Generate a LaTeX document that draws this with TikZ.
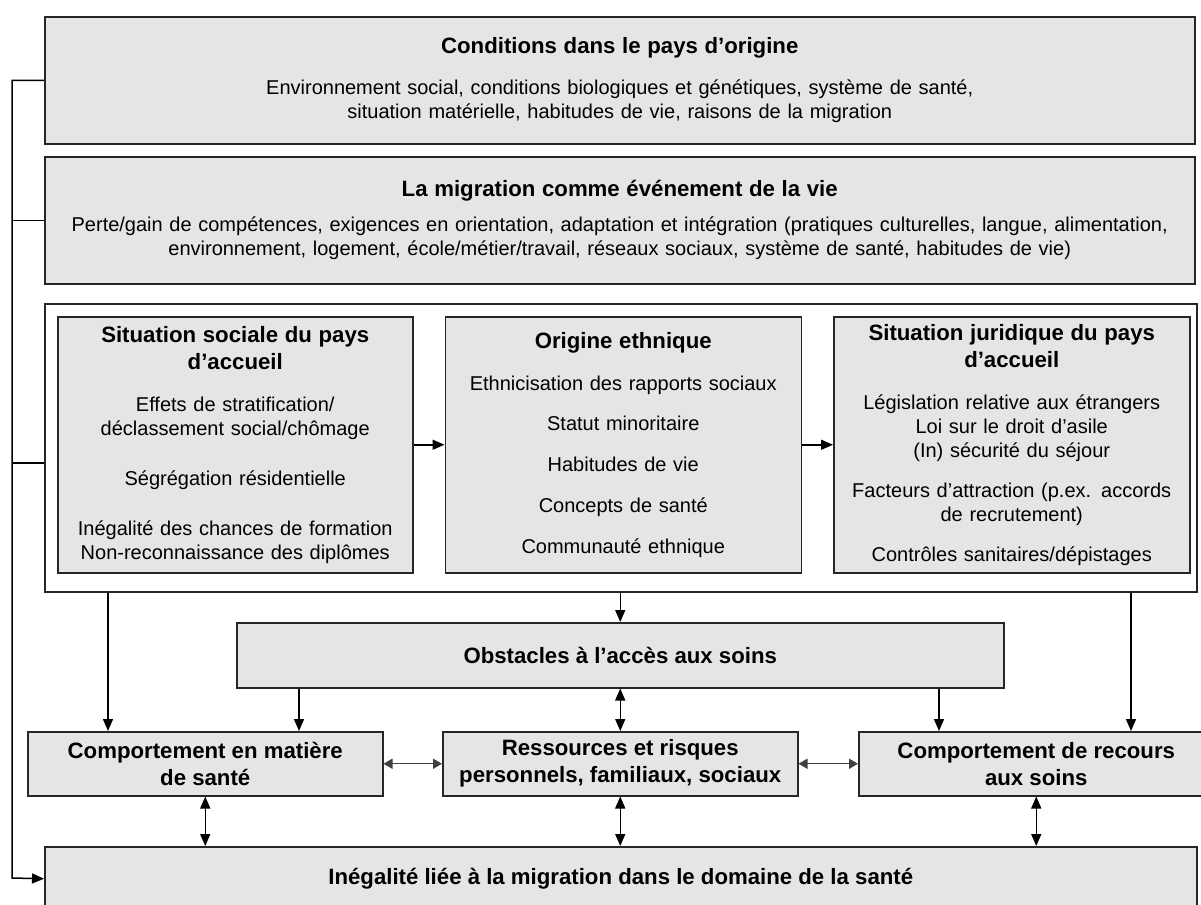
\documentclass[tikz,border=0pt]{standalone}
\usepackage{fontspec}
\setmainfont{Liberation Sans}
\usetikzlibrary{arrows.meta,positioning}
\newcommand\headfont{\bfseries\fontsize{11.1}{13.5}\selectfont}
\newcommand\bodyfont{\fontsize{10}{12}\selectfont}
\tikzset{
    box/.style={draw=black!85, fill=black!10, line width=0.75pt, inner sep=0pt, align=center},
    inner/.style={box, minimum width=177.5pt, minimum height=128pt, text width=172pt},
    lower/.style={box, minimum width=177.5pt, minimum height=32pt, font=\headfont},
    frame/.style={draw=black!85, fill=white, line width=0.75pt},
    wire/.style={line width=0.75pt},
    flow/.style={-{Triangle[length=6pt, width=5pt]}, line width=0.75pt},
    both/.style={{Triangle[length=6pt, width=5pt]}-{Triangle[length=6pt, width=5pt]}, line width=0.75pt},
    link/.style={{Triangle[length=4.5pt, width=5pt]}-{Triangle[length=4.5pt, width=5pt]}, draw=black!75, line width=0.7pt}
}
\begin{document}
\begin{tikzpicture}[x=0.5pt, y=-0.5pt]
    \useasboundingbox (0,0) rectangle (1201,905);
    \clip (0,0) rectangle (1201,905);

    % top row
    \node[box, anchor=north west, minimum width=575pt, minimum height=63.5pt, text width=570pt] (origine) at (44,16)
        {{\headfont Conditions dans le pays d’origine\par}\vspace{8.5pt}{\bodyfont Environnement social, conditions biologiques et génétiques, système de santé,\\ situation matérielle, habitudes de vie, raisons de la migration\par}};
    \node[box, anchor=north west, minimum width=575pt, minimum height=63.5pt, text width=570pt] (migration) at (44,156)
        {{\headfont La migration comme événement de la vie\par}\vspace{5.5pt}{\bodyfont Perte/gain de compétences, exigences en orientation, adaptation et intégration (pratiques culturelles, langue, alimentation,\\ environnement, logement, école/métier/travail, réseaux sociaux, système de santé, habitudes de vie)\par}};

    % host country frame
    \node[frame, anchor=north west, minimum width=576pt, minimum height=144pt] (cadre) at (44,303) {};
    \node[inner, anchor=north west] (social) at (57,316)
        {{\headfont Situation sociale du pays\\ d’accueil\par}\vspace{9pt}{\bodyfont Effets de stratification/\\ déclassement social/chômage\\[13pt] Ségrégation résidentielle\\[13pt] Inégalité des chances de formation\\ Non-reconnaissance des diplômes\par}};
    \node[inner, minimum width=178pt, right=15.5pt of social] (ethnie)
        {{\headfont Origine ethnique\par}\vspace{9pt}{\bodyfont Ethnicisation des rapports sociaux\\[8.4pt] Statut minoritaire\\[8.4pt] Habitudes de vie\\[8.4pt] Concepts de santé\\[8.4pt] Communauté ethnique\par}};
    \node[inner, minimum width=178pt, right=15.5pt of ethnie] (juridique)
        {{\headfont Situation juridique du pays\\ d’accueil\par}\vspace{9pt}{\bodyfont Législation relative aux étrangers\\ Loi sur le droit d’asile\\ (In) sécurité du séjour\\[8pt] Facteurs d’attraction (p.ex. accords\\ de recrutement)\\[8pt] Contrôles sanitaires/dépistages\par}};

    % lower part
    \node[lower, anchor=north west, minimum width=383.5pt, minimum height=32.5pt] (obstacles) at (236,622) {Obstacles à l’accès aux soins};
    \node[lower, anchor=north west] (sante) at (27,731) {Comportement en matière\\ de santé};
    \node[lower, anchor=north west] (ressources) at (442,731) {Ressources et risques\\ personnels, familiaux, sociaux};
    \node[lower, anchor=north west] (recours) at (858,731) {Comportement de recours\\ aux soins};
    \node[lower, anchor=north west, minimum width=576pt] (ecart) at (44,846) {Inégalité liée à la migration dans le domaine de la santé};

    % left spine
    \draw[flow] (origine.west) -| (12,878) -- (ecart.west);
    \draw[wire] (migration.west) -- (migration.west -| 12,0);
    \draw[wire] (cadre.west |- 0,463) -- (12,463);

    \draw[flow] (social) -- (ethnie);
    \draw[flow] (ethnie) -- (juridique);

    \draw[flow] (cadre.south -| 108,0) -- (sante.north -| 108,0);
    \draw[flow] (cadre.south -| obstacles.north) -- (obstacles.north);
    \draw[flow] (cadre.south -| 1131,0) -- (recours.north -| 1131,0);
    \draw[flow] (obstacles.south -| 299,0) -- (sante.north -| 299,0);
    \draw[flow] (obstacles.south -| 939,0) -- (recours.north -| 939,0);
    \draw[both] (obstacles.south) -- (ressources.north);

    \draw[link] (sante) -- (ressources);
    \draw[link] (ressources) -- (recours);

    \draw[both] (sante.south) -- (sante.south |- ecart.north);
    \draw[both] (ressources.south) -- (ressources.south |- ecart.north);
    \draw[both] (recours.south) -- (recours.south |- ecart.north);
\end{tikzpicture}
\end{document}
